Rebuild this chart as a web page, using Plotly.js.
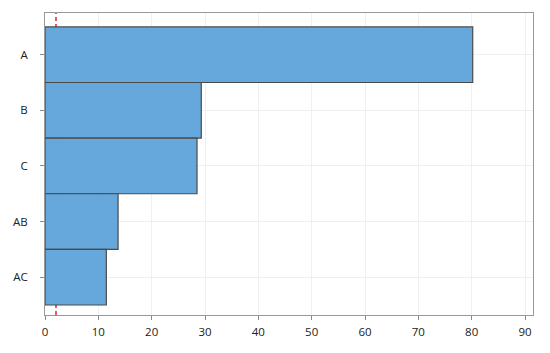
<!DOCTYPE html>
<html>
<head>
<meta charset="utf-8">
<script src="https://cdn.plot.ly/plotly-3.0.1.min.js"></script>
<style>
  html, body { margin: 0; padding: 0; background: #fff; }
  #chart { width: 550px; height: 353px; }
</style>
</head>
<body>
<div id="chart"></div>
<script>
// effect terms and their standardized effects
var terms = ['A', 'B', 'C', 'AB', 'AC'];
var effects = [80.2, 29.3, 28.5, 13.7, 11.5];
var refLine = 2.06;   // red dashed reference value
var xTicks = [0, 10, 20, 30, 40, 50, 60, 70, 80, 90];

var trace = {
    type: 'bar',
    orientation: 'h',
    y: terms,
    x: effects,
    marker: {
        color: '#66a8dc',
        line: {color: '#4a4a4a', width: 1.2}
    },
    hoverinfo: 'x+y'
};

var layout = {
    width: 550,
    height: 353,
    margin: {l: 45, r: 17, t: 13, b: 38},
    paper_bgcolor: '#fff',
    plot_bgcolor: '#fff',
    bargap: 0,
    showlegend: false,
    font: {family: 'Open Sans, DejaVu Sans, sans-serif', size: 11.5, color: '#222'},
    xaxis: {
        range: [0, 91.5],
        tickvals: xTicks,
        ticks: 'outside',
        ticklen: 4,
        tickcolor: '#888',
        showgrid: true,
        gridcolor: '#f0f0f0',
        showline: true,
        linecolor: '#999',
        mirror: true,
        zeroline: false,
        ticklabelstandoff: 2
    },
    yaxis: {
        type: 'category',
        categoryorder: 'array',
        categoryarray: terms,
        range: [4.68, -0.75],
        ticks: 'outside',
        ticklen: 4,
        tickcolor: '#888',
        showgrid: true,
        gridcolor: '#f0f0f0',
        showline: true,
        linecolor: '#999',
        mirror: true,
        zeroline: false,
        ticklabelstandoff: 10
    },
    shapes: [{
        type: 'line',
        layer: 'below',
        xref: 'x', yref: 'paper',
        x0: refLine, x1: refLine, y0: 0, y1: 1,
        line: {color: '#e8202a', width: 1.5, dash: '4px,3px'}
    }]
};

Plotly.newPlot('chart', [trace], layout, {displayModeBar: false, staticPlot: true});
</script>
</body>
</html>
